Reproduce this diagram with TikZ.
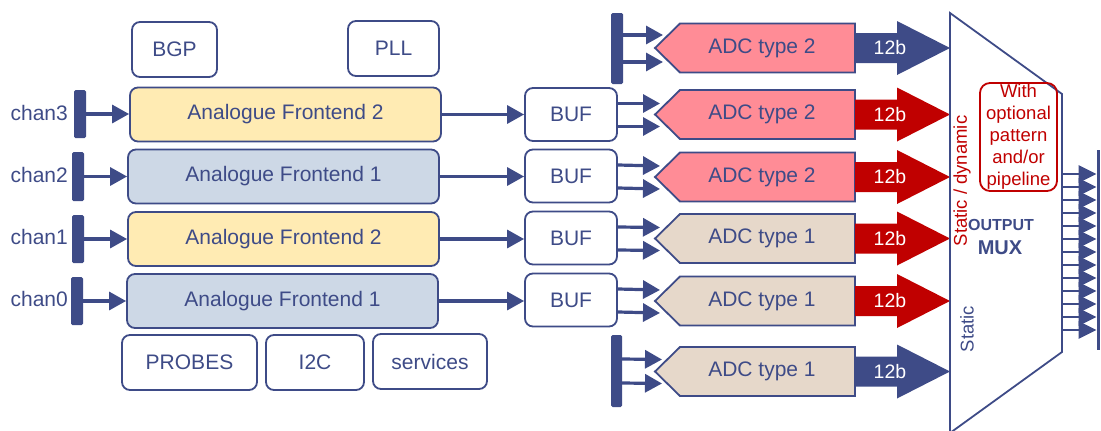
\documentclass[tikz,border=0pt]{standalone}
\usepackage{fontspec}
\setmainfont{Liberation Sans}
\usetikzlibrary{arrows.meta,calc}
\definecolor{mblue}{RGB}{62,75,135}
\definecolor{mred}{RGB}{192,0,0}
\definecolor{afyel}{RGB}{255,235,179}
\definecolor{afblu}{RGB}{205,216,230}
\definecolor{adcpink}{RGB}{255,140,150}
\definecolor{adcbeige}{RGB}{230,216,202}
\begin{document}
\begin{tikzpicture}[x=1pt,y=-1pt,
  every node/.style={font=\fontsize{21}{25}\selectfont, text=mblue, inner sep=0pt},
  box/.style={draw=mblue, line width=1.8pt, rounded corners=8pt, fill=white},
  afbox/.style={box, minimum width=311pt, minimum height=54pt},
  bufbox/.style={box, minimum width=92pt, minimum height=53pt},
  bar/.style={fill=mblue, rounded corners=1.5pt},
  conn/.style={draw=mblue, line width=3.2pt, -{Triangle[length=17pt,width=18pt]}},
  oconn/.style={draw=mblue, line width=2.6pt, -{Triangle[length=18pt,width=17pt]}},
  pent/.style={draw=mblue, line width=1.8pt},
  small/.style={font=\fontsize{18.5}{22}\selectfont}
]
\useasboundingbox (0,0) rectangle (1101,431);

% top helper blocks
\node[box, minimum width=85pt, minimum height=55pt] (bgp) at (174.5,49.5) {BGP};
\node[box, minimum width=91pt, minimum height=55pt] (pll) at (393.5,48.5) {PLL};

% analogue frontends
\node[afbox, fill=afyel] (af3) at (285.5,114.5) {Analogue Frontend 2};
\node[afbox, fill=afblu] (af2) at (283.5,176.5) {Analogue Frontend 1};
\node[afbox, fill=afyel] (af1) at (283.5,239) {Analogue Frontend 2};
\node[afbox, fill=afblu] (af0) at (282.5,301) {Analogue Frontend 1};

% bottom helper blocks
\node[box, minimum width=135pt, minimum height=55pt] (probes) at (189.5,362.5) {PROBES};
\node[box, minimum width=98pt, minimum height=55pt] (i2c) at (315,362.5) {I2C};
\node[box, minimum width=114pt, minimum height=55pt] (serv) at (430,361.5) {services};

% channel bars and labels
\node[bar, minimum width=12pt, minimum height=48pt] (bar3) at (80,114) {};
\node[bar, minimum width=12pt, minimum height=49pt] (bar2) at (78,176.5) {};
\node[bar, minimum width=12pt, minimum height=48pt] (bar1) at (78,239) {};
\node[bar, minimum width=12pt, minimum height=48pt] (bar0) at (77,301) {};
\node[anchor=east] (ch3) at (68,113) {chan3};
\node[anchor=east] (ch2) at (68,175) {chan2};
\node[anchor=east] (ch1) at (68,237) {chan1};
\node[anchor=east] (ch0) at (68,299) {chan0};

% buffers
\node[bufbox] (buf3) at (571,114.5) {BUF};
\node[bufbox] (buf2) at (571,176) {BUF};
\node[bufbox] (buf1) at (571,238) {BUF};
\node[bufbox] (buf0) at (571,300) {BUF};

\foreach \k in {0,1,2,3}{
  \draw[conn] (bar\k.east) -- (bar\k.east -| af\k.west);
  \draw[conn] (af\k.east) -- (af\k.east -| buf\k.west);
}

% ADC rows
\foreach \c/\n/\lab/\col/\acol in {48/5/2/adcpink/mblue, 114.5/4/2/adcpink/mred, 177/3/2/adcpink/mred, 238.5/2/1/adcbeige/mred, 301/1/1/adcbeige/mred, 371.5/0/1/adcbeige/mblue}{
  \draw[pent, fill=\col] (655,\c) -- (680,\c-24.5) -- (855,\c-24.5) -- (855,\c+24.5) -- (680,\c+24.5) -- cycle;
  \coordinate (tip\n) at (655,\c);
  \node (adc\n) at (762,\c) {ADC type \lab};
  \fill[\acol] (855,\c-15) -- (897,\c-15) -- (897,\c-27) -- (950,\c) -- (897,\c+27) -- (897,\c+15) -- (855,\c+15) -- cycle;
  \node[text=white, font=\fontsize{19.5}{23}\selectfont] (bits\n) at (890,\c) {12b};
}

% inputs of the outer ADCs
\node[bar, minimum width=12pt, minimum height=71pt] (bartop) at (617,48.5) {};
\node[bar, minimum width=11pt, minimum height=72pt] (barbot) at (616.5,371) {};
\draw[conn] ($(bartop.east)+(0,-13.5)$) -- ($(tip5)+(8,-13)$);
\draw[conn] ($(bartop.east)+(0,13.5)$) -- ($(tip5)+(8,14)$);
\draw[conn] ($(barbot.east)+(0,-12)$) -- ($(tip0)+(7,-12)$);
\draw[conn] ($(barbot.east)+(0,12)$) -- ($(tip0)+(7,12)$);

% buffer outputs into ADCs
\foreach \b/\n in {3/4, 2/3, 1/2, 0/1}{
  \draw[conn] ($(buf\b.east)+(0,-11)$) -- ($(tip\n)+(5,-11)$);
  \draw[conn] ($(buf\b.east)+(0,12)$) -- ($(tip\n)+(5,12)$);
}

% output multiplexer
\draw[mblue, line width=1.8pt] (950,13) -- (1062,94) -- (1062,352) -- (950,433) -- cycle;
\node[draw=mred, line width=1.8pt, rounded corners=10pt, minimum width=77pt, minimum height=108pt,
      text=mred, align=center, font=\fontsize{18.5}{22}\selectfont] (opt) at (1018.5,137)
      {With\\optional\\pattern\\and/or\\pipeline};
\node[rotate=90, text=mred, small] (sd) at (962,181) {Static / dynamic};
\node[rotate=90, small] (st) at (967,329) {Static};
\node[font=\bfseries\fontsize{16}{19}\selectfont] (outl) at (1001,225) {OUTPUT};
\node[font=\bfseries\fontsize{20}{24}\selectfont] (muxl) at (1000,248) {MUX};

% parallel outputs
\node[bar, rounded corners=0pt, minimum width=3.5pt, minimum height=200pt] (obar) at (1098.5,250) {};
\foreach \i in {0,...,12}{
  \coordinate (mo\i) at (1062,174+\i*13);
  \draw[oconn] (mo\i) -- (mo\i -| obar.west);
}
\end{tikzpicture}
\end{document}
